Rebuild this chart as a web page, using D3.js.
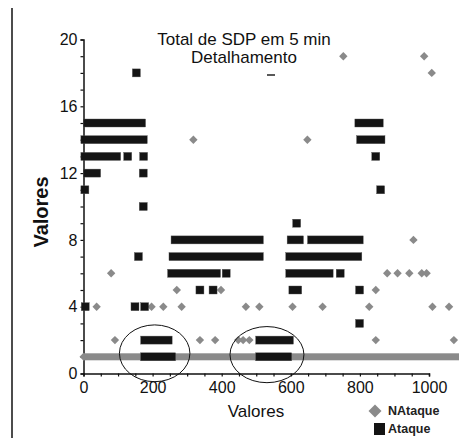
<!DOCTYPE html>
<html>
<head>
<meta charset="utf-8">
<script src="https://cdn.jsdelivr.net/npm/d3@7"></script>
<style>
  html, body { margin: 0; padding: 0; background: #fff; }
  svg { display: block; font-family: "Liberation Sans", Arial, sans-serif; }
</style>
</head>
<body>
<svg id="chart" width="459" height="438"></svg>
<script>
// Attack events: runs of consecutive samples [xStart, xEnd, value]; single samples have xStart == xEnd
const ataqueRuns = [
  [153, 153, 18],
  [11, 168, 15], [797, 856, 15],
  [4, 173, 14], [802, 861, 14],
  [4, 96, 13], [128, 128, 13], [174, 174, 13], [846, 846, 13],
  [11, 38, 12], [173, 173, 12],
  [4, 4, 11], [860, 860, 11],
  [173, 173, 10],
  [617, 617, 9],
  [265, 509, 8], [601, 625, 8], [660, 798, 8],
  [159, 159, 7], [259, 509, 7], [597, 794, 7],
  [255, 385, 6], [413, 413, 6], [597, 711, 6], [743, 743, 6],
  [337, 337, 5], [375, 375, 5], [606, 620, 5], [799, 799, 5],
  [5, 5, 4], [149, 149, 4], [177, 177, 4],
  [799, 799, 3],
  [177, 245, 2], [510, 596, 2],
  [177, 255, 1], [510, 591, 1]
];

// Non-attack samples
const nataquePoints = [
  [752, 19], [986, 19], [1008, 18],
  [318, 14], [648, 14],
  [955, 8],
  [80, 6], [879, 6], [909, 6], [943, 6], [979, 6], [993, 6],
  [270, 5], [398, 5], [846, 5],
  [38, 4], [197, 4], [231, 4], [284, 4], [470, 4], [509, 4], [605, 4], [692, 4], [827, 4], [1010, 4], [1058, 4],
  [91, 2], [337, 2], [381, 2], [448, 2], [462, 2], [480, 2], [846, 2], [1072, 2]
];
// Continuous band of non-attack samples
const nataqueRuns = [[0, 1090, 1]];

// Highlighted regions: [centerX, centerY, radiusX, radiusY] in data units
const highlights = [[206, 1.21, 102, 1.7], [531, 1.13, 107, 1.68]];

const xTickLabels = [0, 200, 400, 600, 800, 1000];
const yTickLabels = [0, 4, 8, 12, 16, 20];
const titleLines = ["Total de SDP em 5 min", "Detalhamento"];
const legendItems = ["NAtaque", "Ataque"];

const svg = d3.select("#chart");
const x = d3.scaleLinear().domain([0, 1000]).range([83.5, 429]);
const y = d3.scaleLinear().domain([0, 20]).range([373.5, 39.5]);

const GRAY = "#8a8a8a";
const BLACK = "#141414";
const diamond = r => `M0,${-r}L${r},0L0,${r}L${-r},0Z`;

// page frame line
svg.append("line").attr("x1", 12).attr("x2", 12).attr("y1", 8).attr("y2", 438)
  .attr("stroke", "#111").attr("stroke-width", 1.5);

// title
svg.append("g").selectAll("text").data(titleLines).join("text")
  .attr("x", 244).attr("y", (d, i) => 45 + i * 18)
  .attr("text-anchor", "middle").attr("font-size", 17).attr("fill", "#111")
  .text(d => d);
svg.append("line").attr("x1", 267).attr("x2", 275).attr("y1", 75).attr("y2", 75)
  .attr("stroke", "#222").attr("stroke-width", 1.5);

// axes
const xAxis = d3.axisBottom(x).tickValues(d3.range(0, 1001, 50))
  .tickSize(3).tickFormat(d => xTickLabels.includes(d) ? d : "");
const gx = svg.append("g").attr("transform", `translate(0,${y(0)})`).call(xAxis);
const yAxis = d3.axisLeft(y).tickValues(d3.range(0, 21, 1))
  .tickSize(3).tickFormat(d => yTickLabels.includes(d) ? d : "");
const gy = svg.append("g").attr("transform", `translate(${x(0)},0)`).call(yAxis);
[gx, gy].forEach(g => {
  g.select(".domain").attr("stroke", "#111").attr("stroke-width", 1.5);
  g.selectAll(".tick line").attr("stroke", "#111").attr("stroke-width", 1.2);
  g.selectAll(".tick text").attr("font-size", 16).attr("fill", "#111")
    .attr("font-family", "Liberation Sans, Arial, sans-serif");
});
gx.selectAll(".tick text").attr("dy", "0.9em").attr("y", 5);
gy.selectAll(".tick text").attr("x", -6);

// axis titles
svg.append("text").attr("x", 256).attr("y", 417).attr("text-anchor", "middle")
  .attr("font-size", 17).attr("fill", "#111").text("Valores");
svg.append("text").attr("transform", `translate(48,212) rotate(-90)`)
  .attr("text-anchor", "middle").attr("font-size", 20).attr("font-weight", "bold")
  .attr("fill", "#111").text("Valores");

// non-attack band
const band = svg.append("g");
band.selectAll("rect").data(nataqueRuns).join("rect")
  .attr("x", d => x(d[0])).attr("width", d => x(d[1]) - x(d[0]))
  .attr("y", d => y(d[2]) - 3.5).attr("height", 7).attr("fill", GRAY);
band.selectAll("path").data(nataqueRuns).join("path")
  .attr("transform", d => `translate(${x(d[0])},${y(d[2])})`)
  .attr("d", diamond(4)).attr("fill", GRAY);

// non-attack points
svg.append("g").selectAll("path").data(nataquePoints).join("path")
  .attr("transform", d => `translate(${x(d[0])},${y(d[1])})`)
  .attr("d", diamond(4.2)).attr("fill", GRAY);

// attack runs
svg.append("g").selectAll("rect").data(ataqueRuns).join("rect")
  .attr("x", d => x(d[0]) - 4).attr("width", d => x(d[1]) - x(d[0]) + 8)
  .attr("y", d => y(d[2]) - 4).attr("height", 8)
  .attr("fill", BLACK).attr("stroke", "#555").attr("stroke-width", 0.4);

// highlight ellipses
svg.append("g").selectAll("ellipse").data(highlights).join("ellipse")
  .attr("cx", d => x(d[0])).attr("cy", d => y(d[1]))
  .attr("rx", d => x(d[2]) - x(0)).attr("ry", d => y(0) - y(d[3]))
  .attr("fill", "none").attr("stroke", "#111").attr("stroke-width", 1);

// legend
const lg = svg.append("g");
lg.append("path").attr("transform", "translate(375,411)").attr("d", diamond(6.5)).attr("fill", GRAY);
lg.append("rect").attr("x", 374).attr("y", 423).attr("width", 11).attr("height", 12).attr("fill", BLACK);
lg.selectAll("text").data(legendItems).join("text")
  .attr("x", 388).attr("y", (d, i) => 415 + i * 18)
  .attr("font-size", 12.5).attr("font-weight", "bold").attr("fill", "#222")
  .text(d => d);
</script>
</body>
</html>
